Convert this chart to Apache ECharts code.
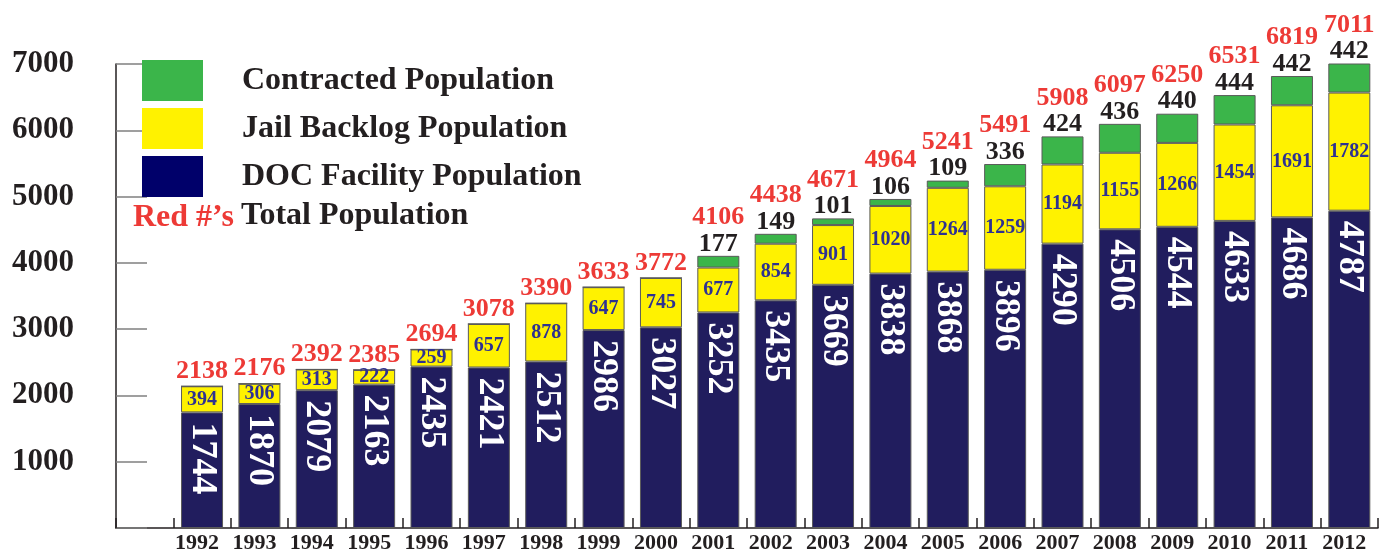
<!DOCTYPE html>
<html>
<head>
<meta charset="utf-8">
<title>Population by Year</title>
<script src="https://cdn.jsdelivr.net/npm/echarts@6/dist/echarts.min.js"></script>
<style>
  html, body { margin: 0; padding: 0; background: #ffffff; }
  #chart { width: 1387px; height: 555px; }
</style>
</head>
<body>
<div id="chart"></div>
<script>
// Year categories
const years = ['1992','1993','1994','1995','1996','1997','1998','1999','2000','2001','2002',
               '2003','2004','2005','2006','2007','2008','2009','2010','2011','2012'];

// Series values
const docFacility = [1744,1870,2079,2163,2435,2421,2512,2986,3027,3252,3435,
                     3669,3838,3868,3896,4290,4506,4544,4633,4686,4787];
const jailBacklog = [394,306,313,222,259,657,878,647,745,677,854,
                     901,1020,1264,1259,1194,1155,1266,1454,1691,1782];
const contracted  = [0,0,0,0,0,0,0,0,0,177,149,
                     101,106,109,336,424,436,440,444,442,442];
const totals      = [2138,2176,2392,2385,2694,3078,3390,3633,3772,4106,4438,
                     4671,4964,5241,5491,5908,6097,6250,6531,6819,7011];

// Y tick labels
const yTicks = [1000,2000,3000,4000,5000,6000,7000];

const serif = '"Liberation Serif", "DejaVu Serif", serif';
const ink = '#231f20';

// leading empty slot keeps the first bar off the value axis
const cats = [''].concat(years);
const pad = arr => ['-'].concat(arr);

const chart = echarts.init(document.getElementById('chart'));

chart.setOption({
  animation: false,
  backgroundColor: '#ffffff',
  grid: { left: 116, right: 9, top: 64, bottom: 27, containLabel: false },
  legend: {
    orient: 'vertical',
    left: 137,
    top: 55,
    itemWidth: 61,
    itemHeight: 41,
    itemGap: 7,
    selectedMode: false,
    icon: 'rect',
    itemStyle: { borderWidth: 0 },
    textStyle: { fontFamily: serif, fontWeight: 'bold', fontSize: 32, color: ink, padding: [0, 0, 0, 34] },
    data: [
      { name: 'Contracted Population', itemStyle: { color: '#3bb54a' } },
      { name: 'Jail Backlog Population', itemStyle: { color: '#fff200' } },
      { name: 'DOC Facility Population', itemStyle: { color: '#00006a' } }
    ]
  },
  graphic: [
    { type: 'text', left: 133, top: 202,
      style: { text: 'Red #\u2019s', fill: '#ed3a36', font: 'bold 32px ' + serif } },
    { type: 'text', left: 241, top: 200,
      style: { text: 'Total Population', fill: ink, font: 'bold 32px ' + serif } }
  ],
  xAxis: {
    type: 'category',
    data: cats,
    boundaryGap: true,
    axisLine: { show: true, lineStyle: { color: ink, width: 1.5 } },
    axisTick: { show: true, interval: 0, inside: true, length: 10, lineStyle: { color: ink, width: 1.5 } },
    axisLabel: {
      fontFamily: serif, fontWeight: 'bold', fontSize: 22, color: ink,
      margin: 4, interval: 0, padding: [0, 10, 0, 0]
    },
    splitLine: { show: false }
  },
  yAxis: {
    type: 'value',
    min: 0,
    max: 7000,
    interval: 1000,
    axisLine: { show: true, lineStyle: { color: ink, width: 1.5 } },
    axisTick: { show: true, inside: true, length: 31, lineStyle: { color: '#808080', width: 1.5 } },
    axisLabel: {
      fontFamily: serif, fontWeight: 'bold', fontSize: 31, color: ink, margin: 42,
      formatter: v => (yTicks.indexOf(v) >= 0 ? String(v) : '')
    },
    splitLine: { show: false }
  },
  series: [
    {
      name: 'DOC Facility Population',
      type: 'bar',
      stack: 'pop',
      barWidth: 42,
      data: pad(docFacility),
      itemStyle: { color: '#211d5e', borderColor: '#5a5a5a', borderWidth: 1 },
      label: {
        show: true,
        position: 'insideTop',
        distance: 10,
        rotate: -90,
        align: 'left',
        verticalAlign: 'middle',
        color: '#ffffff',
        fontFamily: serif,
        fontWeight: 'bold',
        fontSize: 36
      }
    },
    {
      name: 'Jail Backlog Population',
      type: 'bar',
      stack: 'pop',
      barWidth: 42,
      data: pad(jailBacklog),
      itemStyle: { color: '#fff200', borderColor: '#5a5a5a', borderWidth: 1 },
      label: {
        show: true,
        position: 'inside',
        color: '#2e3192',
        fontFamily: serif,
        fontWeight: 'bold',
        fontSize: 20
      }
    },
    {
      name: 'Contracted Population',
      type: 'bar',
      stack: 'pop',
      barWidth: 42,
      data: pad(contracted),
      itemStyle: { color: '#3bb54a', borderColor: '#5a5a5a', borderWidth: 1 },
      label: {
        show: true,
        position: 'top',
        distance: 0,
        formatter: p => {
          const i = p.dataIndex - 1;
          const t = '{t|' + totals[i] + '}';
          return p.value > 0 ? t + '\n{c|' + p.value + '}' : t;
        },
        rich: {
          t: { color: '#ed3a36', fontFamily: serif, fontWeight: 'bold', fontSize: 26, lineHeight: 29 },
          c: { color: ink, fontFamily: serif, fontWeight: 'bold', fontSize: 26, lineHeight: 24 }
        }
      }
    }
  ]
});
</script>
</body>
</html>
